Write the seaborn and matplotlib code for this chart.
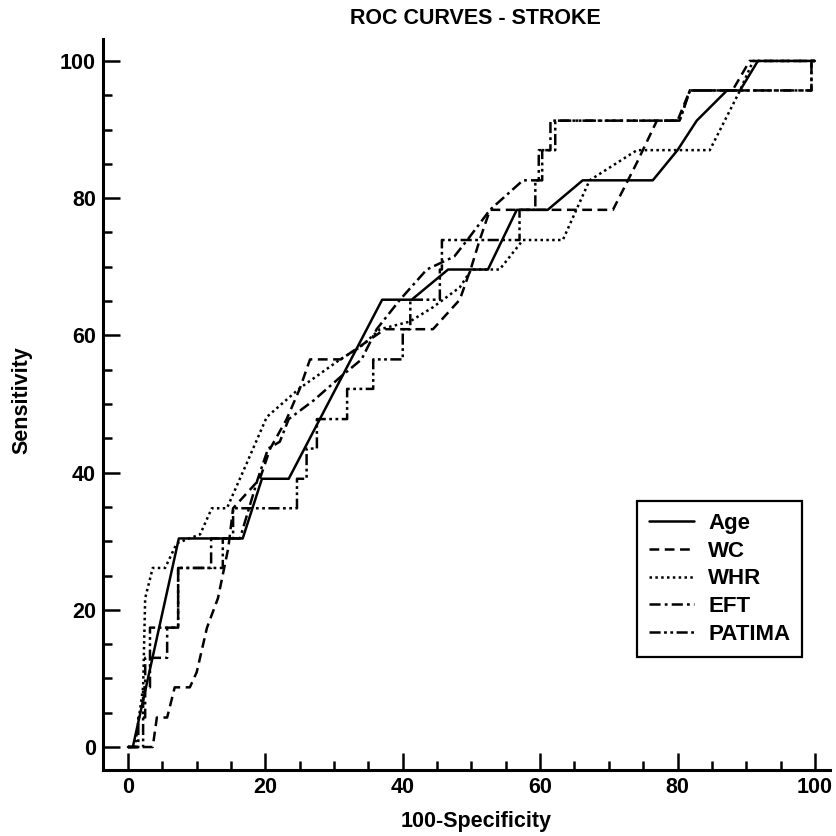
import matplotlib
matplotlib.use("Agg")
import matplotlib.pyplot as plt
from matplotlib.ticker import MultipleLocator
import seaborn as sns
import pandas as pd

# ---------------- data ----------------
curve_names = ["Age", "WC", "WHR", "EFT", "PATIMA"]

age_x = [0, 0.7, 7.4, 16.7, 19.5, 23.4, 37.0, 41.3, 46.6, 52.4, 56.6, 61.1, 66.2, 76.4, 80.0, 82.8, 87.2, 89.1, 91.7, 100]
age_y = [0, 0, 30.4, 30.4, 39.1, 39.1, 65.2, 65.2, 69.6, 69.6, 78.3, 78.3, 82.6, 82.6, 87.0, 91.3, 95.7, 95.7, 100, 100]

wc_x = [0, 3.6, 4.2, 5.7, 6.8, 9.0, 10.0, 11.5, 13.1, 14.6, 15.3, 19.2, 20.7, 23.1, 25.0, 26.5, 31.0, 37.4, 44.4,
        48.3, 50.0, 51.2, 52.7, 70.6, 74.0, 77.0, 80.0, 81.8, 88.0, 90.5, 100]
wc_y = [0, 0, 4.3, 4.3, 8.7, 8.7, 10.9, 17.4, 21.7, 29.0, 34.8, 39.1, 43.5, 47.8, 52.2, 56.5, 56.5, 60.9, 60.9,
        65.2, 70.0, 73.9, 78.3, 78.3, 85.0, 91.3, 91.3, 95.7, 95.7, 100, 100]

whr_x = [0, 1.0, 2.2, 2.5, 3.6, 5.4, 7.1, 10.5, 12.2, 14.4, 17.3, 20.2, 25.0, 30.9, 33.8, 36.7, 41.0, 44.4, 48.3,
         50.0, 54.1, 57.5, 63.3, 67.2, 74.1, 84.7, 89.1, 91.0, 100]
whr_y = [0, 0, 8.7, 21.7, 26.1, 26.1, 29.7, 31.0, 34.8, 34.8, 41.4, 48.1, 52.3, 56.5, 58.3, 60.9, 62.0, 64.1, 67.0,
         69.6, 69.6, 73.9, 73.9, 82.6, 87.0, 87.0, 95.7, 100, 100]

eft_x = [0, 1.5, 1.5, 2.5, 2.5, 5.7, 5.7, 7.3, 7.3, 12.1, 12.1, 16.3, 18.9, 20.4, 22.1, 23.4, 27.0, 31.0, 34.0,
         36.2, 39.6, 43.5, 47.5, 49.4, 52.7, 57.5, 59.8, 59.8, 61.5, 61.5, 80.3, 81.8, 99.5, 99.5, 100]
eft_y = [0, 0, 4.3, 4.3, 13.0, 13.0, 17.4, 17.4, 26.1, 26.1, 30.4, 30.4, 39.1, 43.5, 44.5, 47.8, 50.5, 54.0, 56.5,
         60.9, 65.2, 69.6, 71.5, 73.9, 78.3, 82.6, 82.6, 87.0, 87.0, 91.3, 91.3, 95.7, 95.7, 100, 100]

patima_x = [0, 2.2, 2.2, 3.2, 3.2, 7.3, 7.3, 13.8, 13.8, 15.3, 15.3, 24.6, 24.6, 26.0, 26.0, 27.5, 27.5, 31.9,
            31.9, 35.7, 35.7, 40.0, 40.0, 41.1, 41.1, 45.4, 45.4, 45.7, 45.7, 57.0, 57.0, 59.3, 59.3, 60.3,
            60.3, 62.2, 62.2, 80.3, 81.8, 99.5, 99.5, 100]
patima_y = [0, 0, 8.7, 8.7, 17.4, 17.4, 26.1, 26.1, 30.4, 30.4, 34.8, 34.8, 39.1, 39.1, 43.5, 43.5, 47.8, 47.8,
            52.2, 52.2, 56.5, 56.5, 60.9, 60.9, 65.2, 65.2, 69.6, 69.6, 73.9, 73.9, 78.3, 78.3, 82.6, 82.6,
            87.0, 87.0, 91.3, 91.3, 95.7, 95.7, 100, 100]

x_ticks = [0, 20, 40, 60, 80, 100]
y_ticks = [0, 20, 40, 60, 80, 100]

# ---------------- build long table ----------------
series = {"Age": (age_x, age_y), "WC": (wc_x, wc_y), "WHR": (whr_x, whr_y),
          "EFT": (eft_x, eft_y), "PATIMA": (patima_x, patima_y)}
rows = []
for name in curve_names:
    xs, ys = series[name]
    for i, (xv, yv) in enumerate(zip(xs, ys)):
        rows.append({"curve": name, "order": i, "spec": xv, "sens": yv})
df = pd.DataFrame(rows)

# ---------------- style ----------------
sns.set_style("ticks")
plt.rcParams["font.family"] = ["Liberation Sans", "DejaVu Sans"]
plt.rcParams["font.weight"] = "bold"
plt.rcParams["lines.scale_dashes"] = False
for k in ["text.color", "axes.labelcolor", "xtick.color", "ytick.color",
          "xtick.labelcolor", "ytick.labelcolor", "axes.edgecolor"]:
    plt.rcParams[k] = "black"

fig = plt.figure(figsize=(8.37, 8.36), dpi=100)
ax = fig.add_axes([103 / 837, 1 - 770 / 836, 727 / 837, 731 / 836])

dash_map = {"Age": "", "WC": (7, 4), "WHR": (1.8, 2.4),
            "EFT": (8, 3, 2, 3), "PATIMA": (8, 2.5, 2, 2.5, 2, 2.5)}

sns.lineplot(data=df, x="spec", y="sens", style="curve", style_order=curve_names,
             dashes=dash_map, color="black", linewidth=1.8, sort=False,
             estimator=None, units="curve", ax=ax, legend=True)

ax.set_xlim(-3.64, 102.2)
ax.set_ylim(-3.35, 103.2)

ax.set_xticks(x_ticks)
ax.set_yticks(y_ticks)
ax.xaxis.set_minor_locator(MultipleLocator(5))
ax.yaxis.set_minor_locator(MultipleLocator(5))
ax.tick_params(axis="both", which="major", direction="in", length=12, width=1.8,
               labelsize=15.5, pad=5, color="black", labelcolor="black")
ax.tick_params(axis="both", which="minor", direction="in", length=6.5, width=1.8, color="black")
for lab in ax.get_xticklabels() + ax.get_yticklabels():
    lab.set_fontweight("bold")

for s in ["top", "right"]:
    ax.spines[s].set_visible(False)
for s in ["left", "bottom"]:
    ax.spines[s].set_linewidth(2.2)
    ax.spines[s].set_color("black")

ax.set_xlabel("100-Specificity", fontsize=15.5, fontweight="bold", va="center", color="black")
ax.set_ylabel("Sensitivity", fontsize=15.5, fontweight="bold", va="center", color="black")
ax.xaxis.set_label_coords((476 - 103) / 727, (770 - 822) / 731)
ax.yaxis.set_label_coords((22 - 103) / 727, (770 - 400) / 731)

fig.text(475 / 837, 1 - 18 / 836, "ROC CURVES - STROKE", ha="center", va="center",
         fontsize=15.5, fontweight="bold", color="black")

handles, labels = ax.get_legend_handles_labels()
leg = ax.legend(handles, labels, loc="lower left",
                bbox_to_anchor=((637 - 103) / 727, (770 - 657) / 731),
                borderaxespad=0, frameon=True, fancybox=False, shadow=False,
                prop={"size": 16, "weight": "bold"}, handlelength=2.0,
                handletextpad=0.65, labelspacing=0.3, borderpad=0.55)
leg.get_frame().set_edgecolor("black")
leg.get_frame().set_linewidth(1.6)
leg.get_frame().set_alpha(1)
for line in leg.get_lines():
    line.set_linewidth(1.8)
for t in leg.get_texts():
    t.set_color("black")

fig.savefig("out.png", dpi=100, facecolor="white")
